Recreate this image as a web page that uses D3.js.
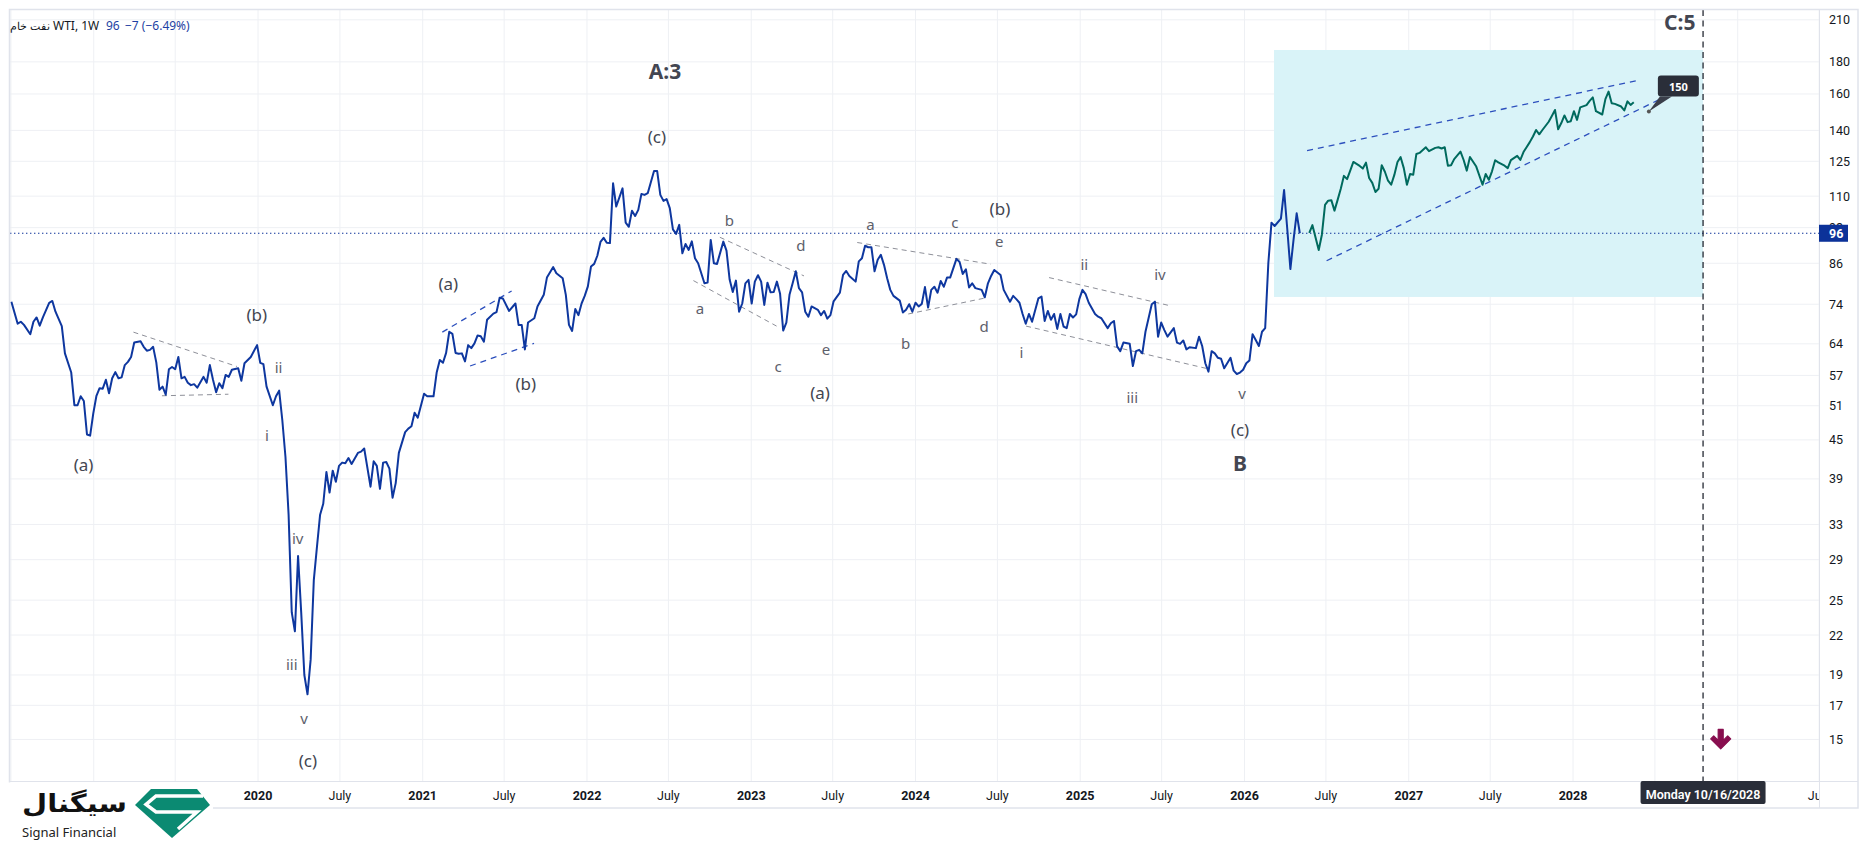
<!DOCTYPE html>
<html>
<head>
<meta charset="utf-8">
<script src="https://cdn.jsdelivr.net/npm/d3@7"></script>
<style>
html, body { margin: 0; padding: 0; background: #fff; }
svg { display: block; font-family: "Noto Sans", sans-serif; }
</style>
</head>
<body>
<svg id="chart" width="1869" height="844"></svg>
<script>
// weekly closes, [weeks since Monday 2 Jul 2018, price]
const startWeek = new Date(2018, 6, 2);
const wti = [[0,74.7],[2,68.9],[3,69.4],[4,68.6],[6,66.3],[7,69.4],[8,70.5],[9,68.4],[10,70.5],[12,74.4],[13,74.9],[14,72.0],[16,68.3],[17,61.8],[19,57.6],[20,51.1],[21,51.1],[22,52.8],[23,51.9],[24,45.9],[25,45.7],[26,49.6],[27,52.9],[28,54.4],[29,54.3],[30,56.1],[31,53.4],[32,56.4],[33,57.7],[34,56.4],[35,56.6],[36,59.2],[37,59.9],[38,61.0],[39,64.3],[41,64.6],[42,63.3],[43,62.4],[44,62.6],[45,63.3],[46,59.8],[47,54.1],[48,54.7],[49,53.1],[50,58.3],[51,58.8],[52,58.3],[53,61.0],[54,56.4],[55,56.7],[56,55.5],[57,55.0],[58,55.2],[59,54.5],[61,56.7],[62,55.5],[63,59.2],[64,56.1],[65,53.6],[66,55.4],[67,54.4],[68,57.1],[69,56.7],[70,58.2],[72,58.5],[73,55.9],[74,59.6],[76,61.0],[78,63.7],[79,59.7],[80,59.4],[81,54.7],[83,51.1],[84,52.8],[85,53.9],[86,48.4],[87,42.3],[88,34.2],[89,23.9],[90,22.3],[91,29.4],[92,23.9],[93,19.0],[94,17.7],[95,20.1],[96,26.9],[97,30.4],[98,34.2],[99,35.6],[100,40.0],[101,37.1],[102,40.2],[103,38.6],[104,40.9],[105,41.4],[106,41.3],[107,42.1],[108,41.2],[110,42.9],[111,43.1],[112,43.6],[114,37.9],[115,41.6],[116,40.9],[117,37.6],[118,41.4],[119,41.5],[120,40.5],[121,36.4],[122,38.4],[123,42.9],[125,46.3],[126,46.9],[127,47.3],[128,49.7],[129,48.8],[131,53.3],[132,52.8],[134,52.8],[135,57.6],[136,60.3],[137,59.7],[138,61.9],[139,66.9],[140,66.4],[141,61.9],[142,61.7],[143,61.8],[144,60.0],[145,63.7],[146,63.0],[147,64.1],[148,66.0],[149,65.8],[150,64.5],[151,69.9],[153,71.5],[154,71.9],[155,75.8],[156,75.6],[158,72.2],[160,74.2],[161,68.6],[162,68.6],[163,62.7],[164,69.2],[166,70.3],[167,73.4],[169,76.6],[170,81.6],[172,84.8],[173,82.9],[175,81.4],[176,76.6],[177,68.6],[178,67.1],[179,72.7],[180,71.1],[181,74.2],[182,76.3],[183,79.0],[184,85.0],[185,85.8],[186,88.4],[187,93.0],[188,94.4],[189,92.7],[190,92.6],[191,115.3],[192,105.9],[194,113.2],[195,99.8],[196,98.3],[197,104.3],[198,102.3],[199,104.6],[200,110.9],[201,110.5],[202,111.2],[204,120.6],[205,120.6],[206,110.5],[207,108.1],[208,108.8],[209,105.3],[210,97.4],[211,95.8],[212,99.0],[213,89.2],[214,92.3],[215,90.3],[216,93.2],[217,87.6],[218,86.0],[220,79.9],[221,80.1],[222,93.7],[223,86.0],[224,85.8],[226,93.1],[227,90.1],[228,81.0],[229,77.4],[230,80.7],[231,72.0],[232,74.2],[233,79.9],[234,80.9],[235,74.2],[236,80.4],[237,82.3],[238,80.4],[239,73.8],[240,80.1],[241,77.3],[242,77.4],[243,80.4],[244,77.0],[245,67.2],[246,69.2],[247,76.6],[248,79.9],[249,83.5],[250,78.5],[251,77.3],[252,72.0],[253,70.7],[254,73.4],[256,72.5],[257,71.1],[258,72.2],[259,70.2],[260,71.1],[261,74.8],[263,77.2],[264,82.4],[265,83.6],[266,82.1],[268,80.4],[269,86.6],[270,87.6],[271,91.7],[272,91.2],[273,91.2],[274,83.5],[275,87.1],[276,88.7],[277,85.5],[278,81.4],[279,78.0],[280,76.3],[282,75.0],[283,71.8],[284,72.5],[285,74.0],[286,72.0],[287,74.4],[288,73.4],[289,74.1],[290,78.8],[291,73.1],[292,78.0],[293,78.9],[294,77.2],[295,80.6],[296,78.9],[297,81.6],[298,81.6],[300,87.4],[301,86.4],[302,82.7],[303,84.1],[304,78.7],[305,79.9],[306,78.5],[308,78.0],[309,75.9],[310,79.9],[311,82.1],[312,83.9],[314,82.4],[315,78.0],[317,74.7],[318,76.3],[319,75.4],[320,74.4],[321,71.4],[322,68.9],[323,71.4],[324,69.4],[326,75.6],[327,76.1],[328,69.6],[329,72.2],[330,69.9],[331,71.4],[332,67.6],[333,71.4],[334,68.2],[335,67.8],[336,71.4],[337,70.5],[338,71.3],[339,75.4],[340,78.0],[341,76.8],[342,74.4],[344,71.4],[345,70.7],[346,70.3],[348,67.8],[349,69.0],[350,69.6],[351,63.4],[352,62.3],[353,64.3],[355,64.0],[356,59.0],[357,62.3],[358,62.6],[359,61.8],[360,66.9],[362,74.0],[363,74.7],[364,65.7],[365,69.2],[366,67.3],[367,65.7],[369,67.8],[370,64.3],[371,64.0],[372,64.8],[373,62.7],[374,63.2],[376,63.0],[377,65.7],[378,63.5],[379,59.6],[380,57.8],[381,62.3],[382,61.8],[383,60.8],[384,60.6],[385,58.5],[387,60.8],[388,58.0],[389,57.3],[390,57.6],[391,58.2],[392,59.6],[393,60.2],[394,66.3],[395,64.9],[396,63.5],[397,66.9],[398,67.8],[399,86.0],[400,99.8],[401,98.6],[403,101.3],[404,112.5],[405,97.7],[406,84.2],[407,93.7],[408,103.3],[409,96.0]];

// projected path (teal)
const projection = [[412,96.1],[413,98.9],[415,90.3],[416,95.5],[417,106.5],[418,108.2],[419,108.4],[420,104.3],[421,108.5],[422,113.0],[423,118.5],[424,117.1],[425,120.8],[426,124.7],[427,123.8],[428,122.9],[429,121.7],[430,124.4],[431,117.6],[432,115.5],[433,111.7],[434,113.0],[435,123.2],[436,120.3],[437,116.4],[438,114.7],[439,118.9],[440,124.7],[441,126.9],[442,121.9],[443,114.7],[444,119.3],[445,119.0],[446,128.4],[447,128.9],[449,131.6],[450,129.7],[452,131.3],[453,131.6],[454,131.0],[455,131.6],[456,123.0],[457,123.2],[458,126.0],[460,129.5],[461,125.6],[462,120.8],[463,127.0],[465,122.6],[467,114.7],[468,119.3],[469,116.8],[470,120.5],[471,125.5],[472,124.5],[474,123.0],[475,121.9],[476,125.5],[478,127.5],[479,125.6],[480,129.3],[482,134.1],[483,136.9],[484,140.2],[485,138.0],[486,140.2],[488,144.5],[489,147.6],[490,150.9],[491,140.6],[492,143.8],[493,147.9],[494,144.3],[495,144.8],[496,150.2],[497,145.5],[498,152.3],[500,153.6],[501,156.0],[502,158.0],[503,150.2],[505,148.4],[506,157.0],[507,161.4],[508,154.7],[509,154.3],[511,152.8],[512,150.6],[513,155.7],[514,153.7],[515,155.2]];

const priceTicks = [15, 17, 19, 22, 25, 29, 33, 39, 45, 51, 57, 64, 74, 86, 98, 110, 125, 140, 160, 180, 210];
const lastPrice = 96;
const lastChange = "−7 (−6.49%)";
const symbolName = "نفت خام";
const symbolInfo = "WTI, 1W";

// trend lines [week1, price1, week2, price2, kind]
const trendLines = [
  [38.75, 66.8, 71.6, 58.9, "gray"], [47.8, 52.9, 68.9, 53.2, "gray"],
  [224.9, 94.6, 251.6, 82.1, "gray"], [216.5, 80.7, 242.9, 68.3, "gray"],
  [268.5, 92.8, 310.9, 85.7, "gray"], [284.7, 71.4, 309.6, 75.8, "gray"],
  [329.4, 81.6, 367.8, 73.6, "gray"], [322.1, 68.3, 379.2, 58.5, "gray"],
  [136.8, 66.8, 158.8, 77.7, "blue"], [145.6, 59.0, 165.9, 64.1, "blue"],
  [411.3, 130.0, 515.9, 168.0, "blue"], [417.5, 86.8, 523.3, 156.9, "blue"]
];

// wave labels [week, price, text, kind]
const waveLabels = [
  [22.9, 41.1, "(a)", "mid"], [77.9, 71.3, "(b)", "mid"], [84.8, 58.7, "ii", "min"],
  [81.1, 45.8, "i", "min"], [90.9, 31.4, "iv", "min"], [89.0, 19.8, "iii", "min"],
  [92.9, 16.2, "v", "min"], [94.1, 13.9, "(c)", "mid"],
  [138.7, 79.9, "(a)", "mid"], [163.3, 55.3, "(b)", "mid"],
  [207.5, 174.3, "A:3", "big"], [204.9, 136.8, "(c)", "mid"],
  [227.9, 100.8, "b", "min"], [250.6, 92.0, "d", "min"], [218.6, 73.1, "a", "min"],
  [243.4, 59.0, "c", "min"], [258.6, 62.7, "e", "min"], [256.7, 53.6, "(a)", "mid"],
  [272.7, 99.3, "a", "min"], [283.9, 64.3, "b", "min"], [299.5, 99.9, "c", "min"],
  [308.8, 68.4, "d", "min"], [313.8, 105.2, "(b)", "mid"], [313.6, 93.3, "e", "min"],
  [320.6, 62.0, "i", "min"], [340.6, 85.7, "ii", "min"], [355.8, 52.7, "iii", "min"],
  [364.6, 82.6, "iv", "min"], [390.7, 53.4, "v", "min"], [390.0, 46.7, "(c)", "mid"],
  [390.0, 41.3, "B", "big"], [529.6, 208.3, "C:5", "big"]
];

// target zone and markers
const zoneWeeks = [400.8, 537];
const zonePrices = [76, 188];
const targetWeek = 519.8, targetPrice = 150;
const markerDate = new Date(2028, 9, 16);
const markerText = "Monday 10/16/2028";
const arrowWeek = 542.6, arrowPrice = 15;

const W = 1869, H = 844;
const plot = {l: 10, t: 10, r: 1819, b: 781};
const logoW = 213;

const svg = d3.select("#chart");
const wk = w => d3.timeHour.offset(startWeek, Math.round(w * 7 * 24));

const x = d3.scaleTime()
  .domain([new Date(2020, 0, 1), new Date(2028, 0, 1)])
  .range([258, 1573]);
const y = d3.scaleLog()
  .domain([12.88, 217.7])
  .range([plot.b, plot.t]);

svg.append("rect").attr("width", W).attr("height", H).attr("fill", "#fff");

svg.append("defs").append("clipPath").attr("id", "plotclip")
  .append("rect").attr("x", plot.l).attr("y", plot.t)
  .attr("width", plot.r - plot.l).attr("height", plot.b - plot.t);

const halfYears = d3.timeMonth.every(6).range(new Date(2018, 6, 1), new Date(2029, 7, 1));

// grid
const grid = svg.append("g").attr("clip-path", "url(#plotclip)");
grid.selectAll(".gy").data(priceTicks).join("line")
  .attr("x1", plot.l).attr("x2", plot.r)
  .attr("y1", d => y(d)).attr("y2", d => y(d))
  .attr("stroke", "#eef0f4").attr("stroke-width", 1);
grid.selectAll(".gx").data(halfYears).join("line")
  .attr("x1", d => x(d)).attr("x2", d => x(d))
  .attr("y1", plot.t).attr("y2", plot.b)
  .attr("stroke", "#eef0f4").attr("stroke-width", 1);

const g = svg.append("g").attr("clip-path", "url(#plotclip)");

// target zone
g.append("rect")
  .attr("x", x(wk(zoneWeeks[0]))).attr("y", y(zonePrices[1]))
  .attr("width", x(wk(zoneWeeks[1])) - x(wk(zoneWeeks[0])))
  .attr("height", y(zonePrices[0]) - y(zonePrices[1]))
  .attr("fill", "#d9f3f8");

// last price line
g.append("line")
  .attr("x1", plot.l).attr("x2", plot.r)
  .attr("y1", y(lastPrice)).attr("y2", y(lastPrice))
  .attr("stroke", "#0c3299").attr("stroke-width", 1.2)
  .attr("stroke-dasharray", "1.4,2.6");

// trend lines
g.selectAll(".trend").data(trendLines).join("line")
  .attr("x1", d => x(wk(d[0]))).attr("y1", d => y(d[1]))
  .attr("x2", d => x(wk(d[2]))).attr("y2", d => y(d[3]))
  .attr("stroke", d => d[4] === "gray" ? "#8e9099" : "#2c4fbd")
  .attr("stroke-width", d => d[4] === "gray" ? 1 : 1.3)
  .attr("stroke-dasharray", d => d[4] === "gray" ? "5,4" : "6,5");

const line = d3.line().x(d => x(wk(d[0]))).y(d => y(d[1]));

g.append("path").datum(wti).attr("d", line)
  .attr("fill", "none").attr("stroke", "#0e379f").attr("stroke-width", 2)
  .attr("stroke-linejoin", "round");
g.append("path").datum(projection).attr("d", line)
  .attr("fill", "none").attr("stroke", "#006a5e").attr("stroke-width", 2)
  .attr("stroke-linejoin", "round");

// wave labels
const labelStyle = {
  min: {size: 15, weight: 400, color: "#5d606b"},
  mid: {size: 17, weight: 400, color: "#434651"},
  big: {size: 21, weight: 700, color: "#434651"}
};
g.selectAll(".wave").data(waveLabels).join("text")
  .attr("x", d => x(wk(d[0]))).attr("y", d => y(d[1]))
  .attr("text-anchor", "middle").attr("dominant-baseline", "central")
  .attr("font-size", d => labelStyle[d[3]].size)
  .attr("font-weight", d => labelStyle[d[3]].weight)
  .attr("fill", d => labelStyle[d[3]].color)
  .text(d => d[2]);

// vertical marker line
svg.append("line")
  .attr("x1", x(markerDate)).attr("x2", x(markerDate))
  .attr("y1", plot.t).attr("y2", plot.b)
  .attr("stroke", "#131722").attr("stroke-width", 1.2)
  .attr("stroke-dasharray", "6,4.5");

// target callout
const tx = x(wk(targetWeek)), ty = y(targetPrice);
svg.append("polygon")
  .attr("points", [[tx + 11, ty - 15], [tx + 23, ty - 15], [tx, ty]].join(" "))
  .attr("fill", "#3a3e4a");
svg.append("circle").attr("cx", tx).attr("cy", ty).attr("r", 2).attr("fill", "#555");
svg.append("rect")
  .attr("x", tx + 9).attr("y", ty - 36).attr("width", 41).attr("height", 21)
  .attr("rx", 3).attr("fill", "#2a2e39");
svg.append("text")
  .attr("x", tx + 29.5).attr("y", ty - 25.5)
  .attr("text-anchor", "middle").attr("dominant-baseline", "central")
  .attr("font-size", 11).attr("font-weight", 700).attr("fill", "#fff")
  .text(targetPrice);

// down arrow
const ax = x(wk(arrowWeek)), ay = y(arrowPrice);
svg.append("path")
  .attr("d", `M${ax - 2.5},${ay - 10} L${ax + 2.5},${ay - 10} L${ax + 2.5},${ay + 1} L${ax + 7},${ay - 3.5} L${ax + 10},${ay - 0.5} L${ax},${ay + 9.5} L${ax - 10},${ay - 0.5} L${ax - 7},${ay - 3.5} L${ax - 2.5},${ay + 1} Z`)
  .attr("fill", "#880e4f").attr("stroke", "#880e4f")
  .attr("stroke-width", 1.2).attr("stroke-linejoin", "round");

// frame
svg.append("rect")
  .attr("x", 9.5).attr("y", 9.5).attr("width", 1858 - 9.5).attr("height", 808 - 9.5)
  .attr("fill", "none").attr("stroke", "#e0e3eb").attr("stroke-width", 1.5);
svg.append("line").attr("x1", plot.r + 0.5).attr("x2", plot.r + 0.5)
  .attr("y1", 9.5).attr("y2", 808).attr("stroke", "#e0e3eb");
svg.append("line").attr("x1", 9.5).attr("x2", 1858)
  .attr("y1", plot.b + 0.5).attr("y2", plot.b + 0.5).attr("stroke", "#e0e3eb");

// price axis (98 sits under the last-price tag)
const yAxis = svg.append("g").attr("font-family", "Roboto, sans-serif");
yAxis.selectAll("text").data(priceTicks).join("text")
  .attr("x", 1829).attr("y", d => y(d))
  .attr("dominant-baseline", "central")
  .attr("font-size", 12.5).attr("fill", "#131722")
  .text(d => d);
yAxis.append("rect")
  .attr("x", plot.r).attr("y", y(lastPrice) - 8.5).attr("width", 29).attr("height", 17)
  .attr("fill", "#0c3299");
yAxis.append("text")
  .attr("x", 1829).attr("y", y(lastPrice)).attr("dominant-baseline", "central")
  .attr("font-size", 12.5).attr("font-weight", 700).attr("fill", "#fff")
  .text(lastPrice);

// time axis: labels hidden by the logo and the crosshair tag are skipped
const markerX = x(markerDate);
const axisTicks = halfYears.filter(d => x(d) > logoW + 15 && Math.abs(x(d) - markerX) > 80);
svg.append("defs").append("clipPath").attr("id", "xclip")
  .append("rect").attr("x", plot.l).attr("y", plot.b).attr("width", plot.r - plot.l).attr("height", 27);
const xAxis = svg.append("g").attr("clip-path", "url(#xclip)").attr("font-family", "Roboto, sans-serif");
xAxis.selectAll("text").data(axisTicks).join("text")
  .attr("x", d => x(d)).attr("y", 795)
  .attr("text-anchor", "middle").attr("dominant-baseline", "central")
  .attr("font-size", 12.5)
  .attr("font-weight", d => d.getMonth() === 0 ? 700 : 400)
  .attr("fill", "#131722")
  .text(d => d.getMonth() === 0 ? d.getFullYear() : "July");
xAxis.append("rect")
  .attr("x", markerX - 62.5).attr("y", plot.b).attr("width", 125).attr("height", 23)
  .attr("rx", 2).attr("fill", "#2a2e39");
xAxis.append("text")
  .attr("x", markerX).attr("y", 794)
  .attr("text-anchor", "middle").attr("dominant-baseline", "central")
  .attr("font-size", 12.5).attr("font-weight", 600).attr("fill", "#fff")
  .text(markerText);

// legend
svg.append("text").attr("x", 50).attr("y", 25).attr("text-anchor", "end")
  .attr("dominant-baseline", "central").attr("font-size", 11).attr("fill", "#131722")
  .text(symbolName);
svg.append("text").attr("x", 53).attr("y", 25)
  .attr("dominant-baseline", "central").attr("font-size", 12).attr("fill", "#131722")
  .text(symbolInfo);
svg.append("text").attr("x", 106).attr("y", 25)
  .attr("dominant-baseline", "central").attr("font-size", 12).attr("fill", "#1e3fa3")
  .text(lastPrice);
svg.append("text").attr("x", 125).attr("y", 25)
  .attr("dominant-baseline", "central").attr("font-size", 12).attr("fill", "#1e3fa3")
  .text(lastChange);

// logo
const logo = svg.append("g");
logo.append("rect").attr("x", 0).attr("y", 782.5).attr("width", logoW).attr("height", 62).attr("fill", "#fff");
logo.append("text").attr("x", 22).attr("y", 803).attr("dominant-baseline", "central")
  .attr("font-size", 25).attr("font-weight", 700).attr("fill", "#111")
  .attr("font-family", "'DejaVu Sans', sans-serif")
  .attr("textLength", 105).attr("lengthAdjust", "spacingAndGlyphs")
  .text("سیگنال");
logo.append("text").attr("x", 22).attr("y", 832).attr("dominant-baseline", "central")
  .attr("font-size", 13).attr("fill", "#222").text("Signal Financial");
logo.append("polygon")
  .attr("points", "151,789 197,789 210,805 172,838 135,805")
  .attr("fill", "#0b8a72");
logo.append("polyline")
  .attr("points", "203,796 156,796 146,804.5 156,812 197,812 178,829")
  .attr("fill", "none").attr("stroke", "#fff").attr("stroke-width", 3.5)
  .attr("stroke-linejoin", "miter");
</script>
</body>
</html>
